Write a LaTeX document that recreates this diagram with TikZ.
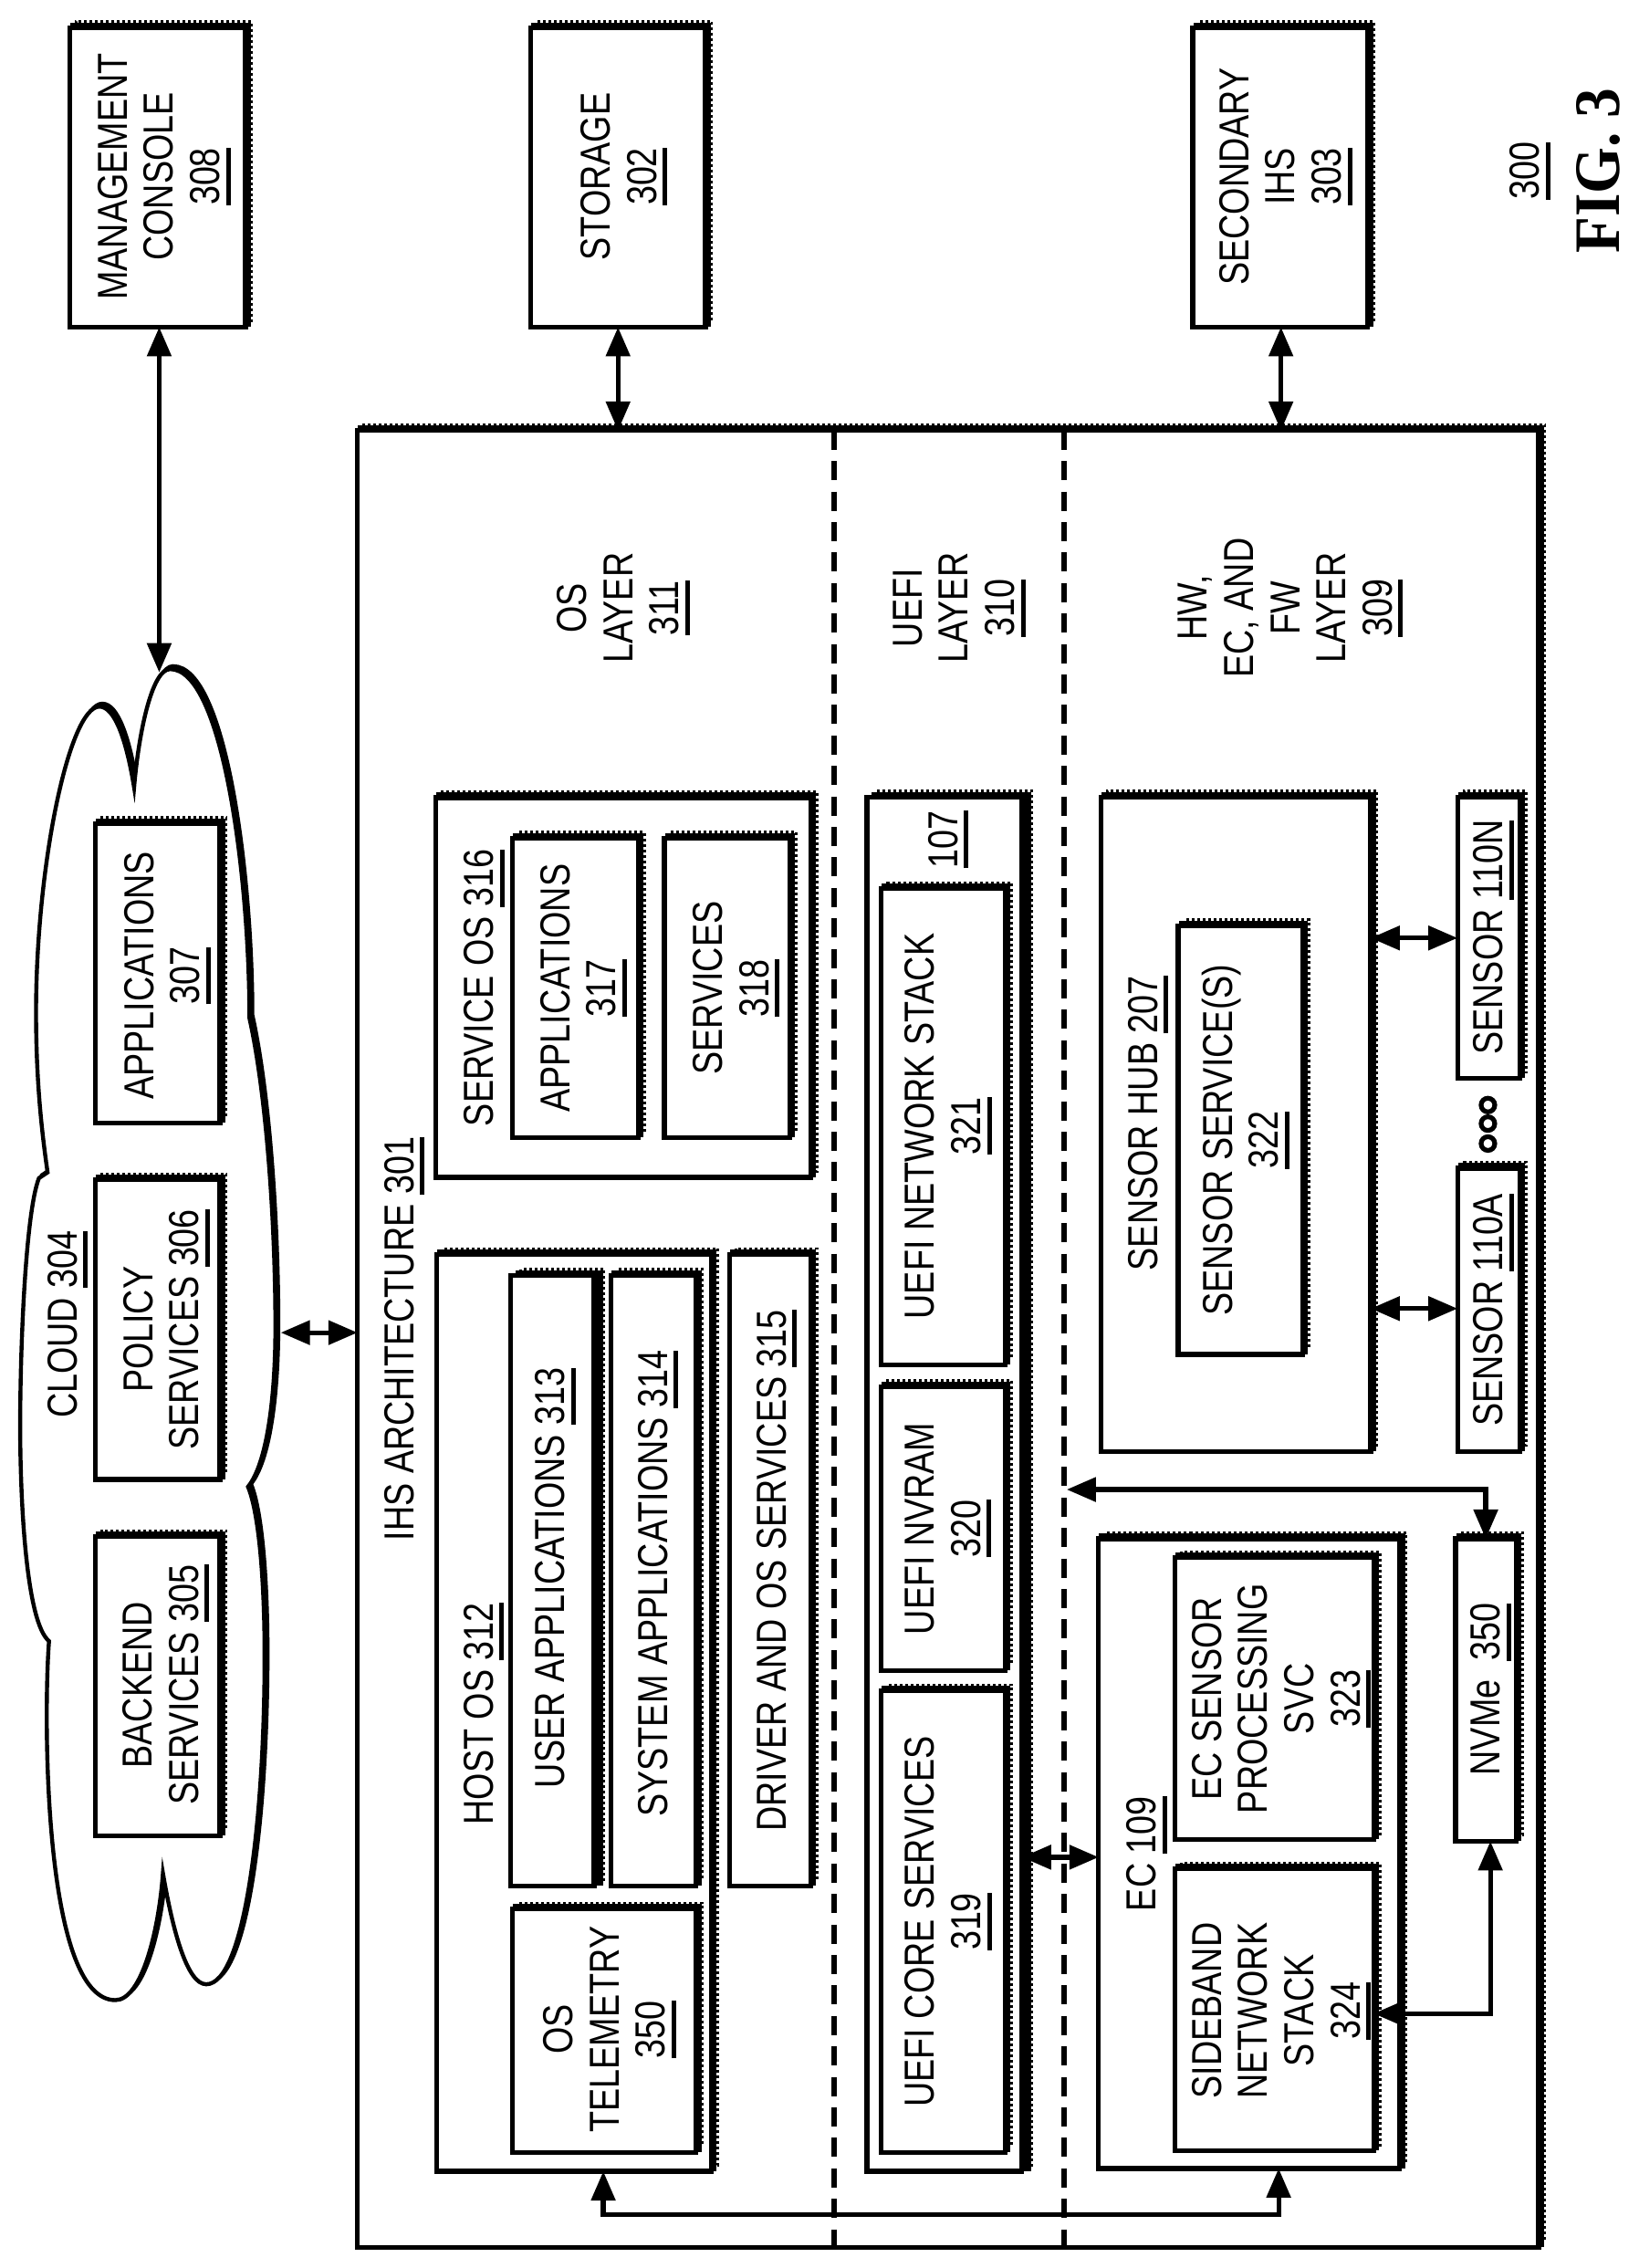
\documentclass[tikz,border=0pt]{standalone}
\usepackage{fontspec}
\setmainfont{Liberation Sans}
\newfontfamily\figfont{Liberation Serif}
\usetikzlibrary{fit,shadows,arrows.meta}
\newcommand\ul[1]{\leavevmode\setbox0\hbox{#1}\rlap{\smash{\rule[-6.1pt]{\wd0}{2.5pt}}}\box0 }
\newcommand\cloudpath{(93,546) .. controls (88,515) and (80,490) .. (69,490)
 .. controls (48,490) and (25,600) .. (25,702)
 .. controls (25,750) and (29,785) .. (33,813)
 -- (27,817) .. controls (18,840) and (14,930) .. (14,989)
 .. controls (14,1040) and (18,1125) .. (34,1138)
 .. controls (30,1190) and (30,1387) .. (80,1387)
 .. controls (98,1387) and (110,1340) .. (113,1299)
 .. controls (120,1340) and (130,1376) .. (143,1376)
 .. controls (170,1376) and (183.5,1260) .. (183.5,1148)
 .. controls (183.5,1100) and (180,1050) .. (172,1031)
 .. controls (185,1015) and (191,970) .. (191,920)
 .. controls (191,850) and (185,760) .. (173,706)
 .. controls (173,610) and (155,464) .. (118,464)
 .. controls (105,464) and (96,510) .. (93,546) -- cycle}
\tikzset{
 box/.style={draw=black,line width=2.6pt,fill=white,inner sep=0pt,outer sep=0pt,
  general shadow={shadow xshift=3.5pt,shadow yshift=3.3pt,draw=black,line width=1.4pt,dash pattern=on 1.5pt off 1.5pt,fill=none},
  general shadow={shadow xshift=1.6pt,shadow yshift=1.5pt,fill=black,draw=black,line width=2.6pt}},
 heavybox/.style={draw=black,line width=2.6pt,fill=white,inner sep=0pt,outer sep=0pt,
  general shadow={shadow xshift=5.5pt,shadow yshift=3.3pt,draw=black,line width=1.4pt,dash pattern=on 1.5pt off 1.5pt,fill=none},
  general shadow={shadow xshift=3.8pt,shadow yshift=1.5pt,fill=black,draw=black,line width=2.6pt}},
 lbl/.style={rotate=90,xscale=.82,align=center,inner sep=0pt,font=\fontsize{23}{25.3}\selectfont},
 dbl/.style={{Triangle[length=16pt,width=13pt]}-{Triangle[length=16pt,width=13pt]},line width=2.6pt},
 layerline/.style={line width=3pt,dash pattern=on 10.5pt off 6.2pt},
 dotring/.style={circle,draw=black,line width=2.6pt,inner sep=0pt,minimum size=7.5pt}
}
\newcommand\bx[6][box]{\node[#1,fit={(#3,#4)(#5,#6)}] (#2) {};}
\begin{document}
\begin{tikzpicture}[x=0.793pt,y=-0.793pt]
\useasboundingbox (0,0) rectangle (1131.8,1566.8);
% top boxes
\bx{mgmt}{48}{19}{169.6}{226}
\bx{storage}{366.7}{19}{487.4}{226}
\bx{secondary}{824}{19}{945}{226}
% cloud
\path[x=0.79pt,y=-0.79pt,fill=black,draw=black,line width=2.2pt,xshift=1.6pt,yshift=1.6pt] \cloudpath;
\path[x=0.79pt,y=-0.79pt,fill=white,draw=black,line width=2.2pt] \cloudpath;
\bx{apps}{66}{569}{152}{776}
\bx{policy}{66}{815}{152}{1022}
\bx{backend}{66}{1061.5}{152}{1268}
% main
\bx{ihs}{247}{297.5}{1063}{1552.7}
\bx{svcos}{301}{551}{560}{813.4}
\bx{apps317}{354}{579}{441}{785.7}
\bx{svc318}{459}{579}{545.8}{785.7}
\bx{host}{301.8}{866.7}{491.5}{1500}
\bx{telem}{354}{1318.7}{481}{1487}
\bx[heavybox]{user}{353}{881}{410.5}{1303}
\bx{system}{422}{881}{481}{1303}
\bx{driver}{504}{866.7}{560}{1303}
\bx[heavybox]{uefi}{599}{550.5}{706}{1500}
\bx{netstack}{608.6}{614}{694.5}{943}
\bx{nvram}{608.6}{958}{694.5}{1154}
\bx{core}{608.6}{1168}{694.5}{1487}
\bx{hub}{760.5}{550.5}{947}{1002.6}
\bx{sensvc}{814}{639.5}{900}{935.7}
\bx{sensn}{1007}{550.5}{1050}{745}
\bx{sensa}{1007}{807}{1050}{1002.6}
\bx{ec}{759}{1063}{967}{1498}
\bx{ecproc}{812}{1076}{949}{1271}
\bx{side}{812}{1291}{949}{1486}
\bx{nvme}{1005.6}{1063}{1047.5}{1272}
% dashed layers
\coordinate (la) at (576.4,0);
\coordinate (lb) at (735,0);
\draw[layerline] (la|-ihs.north) -- (la|-ihs.south);
\draw[layerline] (lb|-ihs.north) -- (lb|-ihs.south);
% dots
\node[dotring] (dot1) at (1028,763.4) {};
\node[dotring] (dot2) at (1028,776.2) {};
\node[dotring] (dot3) at (1028,790) {};
% connectors
\coordinate (ctop) at (110,464.5);
\coordinate (cright) at (194,920.6);
\coordinate (ya) at (0,648);
\coordinate (yb) at (0,904);
\coordinate (yc) at (0,1283);
\coordinate (yd) at (0,1391);
\coordinate (xs) at (427,0);
\coordinate (xt) at (885,0);
\coordinate (hx) at (416.8,1529.7);
\coordinate (ex) at (883.4,1529.7);
\coordinate (nx) at (1029.7,1391);
\coordinate (tx) at (1026.5,1029);
\coordinate (tl) at (737,1029);
\draw[dbl] (ctop) -- (ctop|-mgmt.south);
\draw[dbl] (xs|-storage.south) -- (xs|-ihs.north);
\draw[dbl] (xt|-secondary.south) -- (xt|-ihs.north);
\draw[dbl] (cright) -- (cright-|ihs.west);
\draw[dbl] (hub.east|-ya) -- (sensn.west|-ya);
\draw[dbl] (hub.east|-yb) -- (sensa.west|-yb);
\draw[dbl] (uefi.east|-yc) -- (ec.west|-yc);
\draw[dbl] (hx|-host.south) -- (hx) -- (ex) -- (ex|-ec.south);
\draw[dbl] (side.east|-yd) -- (nx) -- (nx|-nvme.south);
\draw[dbl] (tl) -- (tx) -- (tx|-nvme.north);
% labels
\node[lbl] (t308) at (109.7,122) {MANAGEMENT\\CONSOLE\\\ul{308}};
\node[lbl] (t302) at (427.5,122) {STORAGE\\\ul{302}};
\node[lbl] (t303) at (884.5,122) {SECONDARY\\IHS\\\ul{303}};
\node[lbl] (t304) at (43,915) {CLOUD \ul{304}};
\node[lbl] (t307) at (112,674) {APPLICATIONS\\\ul{307}};
\node[lbl] (t306) at (111.5,918.5) {POLICY\\SERVICES \ul{306}};
\node[lbl] (t305) at (111,1164) {BACKEND\\SERVICES \ul{305}};
\node[lbl] (t301) at (275.7,925) {IHS ARCHITECTURE \ul{301}};
\node[lbl] (t311) at (427,420) {OS\\LAYER\\\ul{311}};
\node[lbl] (t310) at (659,420) {UEFI\\LAYER\\\ul{310}};
\node[lbl] (t309) at (888,420) {HW,\\EC, AND\\FW\\LAYER\\\ul{309}};
\node[lbl] (t316) at (331,682.5) {SERVICE OS \ul{316}};
\node[lbl] (t317) at (399.5,682.6) {APPLICATIONS\\\ul{317}};
\node[lbl] (t318) at (505,682.6) {SERVICES\\\ul{318}};
\node[lbl] (t312) at (330.6,1184) {HOST OS \ul{312}};
\node[lbl] (t313) at (380,1090) {USER APPLICATIONS \ul{313}};
\node[lbl] (t314) at (451,1094) {SYSTEM APPLICATIONS \ul{314}};
\node[lbl] (t315) at (533,1085) {DRIVER AND OS SERVICES \ul{315}};
\node[lbl] (t350) at (417.5,1402) {OS\\TELEMETRY\\\ul{350}};
\node[lbl] (t107) at (651.5,580) {\ul{107}};
\node[lbl] (t321) at (651.5,778) {UEFI NETWORK STACK\\\ul{321}};
\node[lbl] (t320) at (651.5,1056) {UEFI NVRAM\\\ul{320}};
\node[lbl] (t319) at (651.5,1327.5) {UEFI CORE SERVICES\\\ul{319}};
\node[lbl] (t207) at (789.5,776) {SENSOR HUB \ul{207}};
\node[lbl] (t322) at (857,787.6) {SENSOR SERVICE(S)\\\ul{322}};
\node[lbl] (t110n) at (1028,647.6) {SENSOR \ul{110N}};
\node[lbl] (t110a) at (1028,905) {SENSOR \ul{110A}};
\node[lbl] (t109) at (788.8,1280.6) {EC \ul{109}};
\node[lbl] (t323) at (881.7,1173.5) {EC SENSOR\\PROCESSING\\SVC\\\ul{323}};
\node[lbl] (t324) at (881.7,1389) {SIDEBAND\\NETWORK\\STACK\\\ul{324}};
\node[lbl] (t350b) at (1026.5,1167) {NVMe\ \ \ul{350}};
\node[lbl] (t300) at (1053.6,118) {\ul{300}};
\node[rotate=90,xscale=.92,inner sep=0pt,font=\figfont\bfseries\fontsize{35.5}{38}\selectfont] (fig) at (1104,118) {FIG. 3};
\end{tikzpicture}
\end{document}
